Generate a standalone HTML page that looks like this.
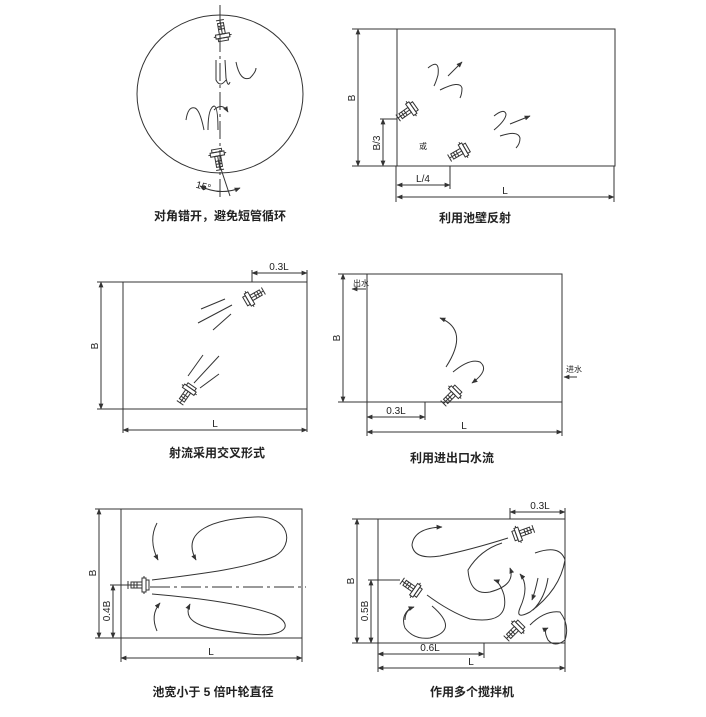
<!DOCTYPE html>
<html><head><meta charset="utf-8">
<style>
html,body{margin:0;padding:0;background:#fff;}
svg{display:block;}
text{font-family:"Liberation Sans","Noto Sans CJK SC",sans-serif;fill:#222;}
.cap{font-size:12px;font-weight:bold;}
.d{font-size:10px;}
</style></head><body>
<svg width="706" height="717" viewBox="0 0 706 717" xmlns="http://www.w3.org/2000/svg">
<defs>
<marker id="a" viewBox="0 0 10 10" refX="9" refY="5" markerWidth="6" markerHeight="6" orient="auto-start-reverse"><path d="M0,1 L10,5 L0,9 z" fill="#333"/></marker>
<g id="m" fill="none" stroke="#333" stroke-width="1">
<rect x="-9" y="-3" width="11" height="6"/>
<line x1="-9" y1="0" x2="2" y2="0"/>
<line x1="-6" y1="-3" x2="-6" y2="3"/><line x1="-3" y1="-3" x2="-3" y2="3"/>
<rect x="2" y="-7" width="4" height="14"/>
<rect x="6" y="-5" width="3" height="10"/>
<line x1="-12" y1="-4" x2="-12" y2="4"/><line x1="-12" y1="0" x2="-9" y2="0"/>
<line x1="4" y1="-9" x2="4" y2="-7"/><line x1="4" y1="7" x2="4" y2="9"/>
</g>
</defs>
<g fill="none" stroke="#333" stroke-width="1">
<!-- Panel 1 -->
<ellipse cx="220" cy="94" rx="83" ry="79"/>
<line x1="220" y1="5" x2="220" y2="198" stroke-dasharray="18,4,3,4"/>
<line x1="218" y1="160" x2="230" y2="196"/>
<path d="M200,186 Q220,196 240,188" marker-start="url(#a)" marker-end="url(#a)"/>
<path d="M216,60 L216,80 Q220,88 226,80" />
<path d="M225,60 L226,78 Q228,88 230,82"/>
<path d="M236,62 Q240,82 250,78 Q256,72 256,68"/>
<path d="M186,120 Q188,106 195,108 Q200,110 204,130"/>
<path d="M208,130 Q208,108 214,106 Q218,106 218,130"/>
<path d="M214,110 Q222,102 228,112" marker-end="url(#a)"/>
<!-- Panel 2 -->
<rect x="397" y="29" width="218" height="137"/>
<line x1="352" y1="29" x2="397" y2="29"/>
<line x1="352" y1="166" x2="397" y2="166"/>
<line x1="358" y1="29" x2="358" y2="166" marker-start="url(#a)" marker-end="url(#a)"/>
<line x1="380" y1="119" x2="397" y2="119"/>
<line x1="383" y1="119" x2="383" y2="166" marker-start="url(#a)" marker-end="url(#a)"/>
<line x1="450" y1="166" x2="450" y2="189"/>
<line x1="396" y1="166" x2="396" y2="202"/>
<line x1="614" y1="166" x2="614" y2="202"/>
<line x1="397" y1="185" x2="450" y2="185" marker-start="url(#a)" marker-end="url(#a)"/>
<line x1="397" y1="197" x2="614" y2="197" marker-start="url(#a)" marker-end="url(#a)"/>
<path d="M428,68 Q440,58 438,75 Q436,82 434,86"/>
<path d="M448,76 L462,62" marker-end="url(#a)"/>
<path d="M440,90 Q460,80 462,88 Q462,94 460,98"/>
<path d="M494,116 Q504,108 506,114 Q506,120 494,130"/>
<path d="M510,124 L530,116" marker-end="url(#a)"/>
<path d="M500,136 Q518,130 520,138 Q520,144 516,148"/>
<!-- Panel 3 -->
<rect x="123" y="282" width="184" height="127"/>
<line x1="97" y1="282" x2="123" y2="282"/>
<line x1="97" y1="409" x2="123" y2="409"/>
<line x1="101" y1="282" x2="101" y2="409" marker-start="url(#a)" marker-end="url(#a)"/>
<line x1="252" y1="270" x2="252" y2="282"/>
<line x1="307" y1="270" x2="307" y2="432"/>
<line x1="123" y1="409" x2="123" y2="433"/>
<line x1="252" y1="273" x2="307" y2="273" marker-start="url(#a)" marker-end="url(#a)"/>
<line x1="123" y1="430" x2="307" y2="430" marker-start="url(#a)" marker-end="url(#a)"/>
<line x1="201" y1="309" x2="225" y2="299"/>
<line x1="198" y1="323" x2="232" y2="305"/>
<line x1="213" y1="330" x2="231" y2="314"/>
<line x1="188" y1="376" x2="203" y2="355"/>
<line x1="194" y1="383" x2="219" y2="356"/>
<line x1="200" y1="388" x2="219" y2="374"/>
<!-- Panel 4 -->
<rect x="367" y="274" width="195" height="128"/>
<line x1="338" y1="274" x2="367" y2="274"/>
<line x1="338" y1="402" x2="367" y2="402"/>
<line x1="343" y1="274" x2="343" y2="402" marker-start="url(#a)" marker-end="url(#a)"/>
<line x1="425" y1="402" x2="425" y2="420"/>
<line x1="367" y1="402" x2="367" y2="436"/>
<line x1="562" y1="402" x2="562" y2="436"/>
<line x1="367" y1="417" x2="425" y2="417" marker-start="url(#a)" marker-end="url(#a)"/>
<line x1="367" y1="432" x2="562" y2="432" marker-start="url(#a)" marker-end="url(#a)"/>
<line x1="366" y1="289" x2="352" y2="289" marker-end="url(#a)"/>
<line x1="577" y1="377" x2="564" y2="377" marker-end="url(#a)"/>
<path d="M446,367 Q470,330 440,318" marker-end="url(#a)"/>
<path d="M453,372 Q470,358 480,362 Q490,370 472,383" marker-end="url(#a)"/>
<!-- Panel 5 -->
<rect x="121" y="509" width="181" height="129"/>
<line x1="95" y1="509" x2="121" y2="509"/>
<line x1="95" y1="638" x2="121" y2="638"/>
<line x1="99" y1="509" x2="99" y2="638" marker-start="url(#a)" marker-end="url(#a)"/>
<line x1="110" y1="585" x2="135" y2="585"/>
<line x1="113" y1="585" x2="113" y2="638" marker-start="url(#a)" marker-end="url(#a)"/>
<line x1="121" y1="638" x2="121" y2="662"/>
<line x1="302" y1="638" x2="302" y2="662"/>
<line x1="121" y1="658" x2="302" y2="658" marker-start="url(#a)" marker-end="url(#a)"/>
<line x1="150" y1="587" x2="306" y2="587" stroke-dasharray="20,4,3,4"/>
<path d="M152,580 C200,574 250,568 275,556 C295,545 290,515 255,517 C215,519 180,530 196,560" marker-end="url(#a)"/>
<path d="M152,594 C200,598 250,605 275,615 C295,625 285,638 250,634 C210,630 180,625 190,604" marker-end="url(#a)"/>
<path d="M157,523 Q148,540 158,560" marker-end="url(#a)"/>
<path d="M157,631 Q150,615 160,603" marker-end="url(#a)"/>
<!-- Panel 6 -->
<rect x="378" y="519" width="187" height="124"/>
<line x1="352" y1="519" x2="378" y2="519"/>
<line x1="352" y1="643" x2="378" y2="643"/>
<line x1="357" y1="519" x2="357" y2="643" marker-start="url(#a)" marker-end="url(#a)"/>
<line x1="368" y1="580" x2="400" y2="580"/>
<line x1="371" y1="580" x2="371" y2="643" marker-start="url(#a)" marker-end="url(#a)"/>
<line x1="510" y1="508" x2="510" y2="519"/>
<line x1="565" y1="508" x2="565" y2="672"/>
<line x1="510" y1="512" x2="565" y2="512" marker-start="url(#a)" marker-end="url(#a)"/>
<line x1="484" y1="643" x2="484" y2="658"/>
<line x1="378" y1="643" x2="378" y2="672"/>
<line x1="378" y1="654" x2="484" y2="654" marker-start="url(#a)" marker-end="url(#a)"/>
<line x1="378" y1="668" x2="565" y2="668" marker-start="url(#a)" marker-end="url(#a)"/>
<path d="M508,538 Q470,550 440,556 Q414,560 412,545 Q414,528 442,527" marker-end="url(#a)"/>
<path d="M502,543 Q480,550 468,570 Q470,596 490,592 Q516,585 510,568" marker-end="url(#a)"/>
<path d="M535,553 Q560,544 565,560 Q560,590 530,612 Q515,620 520,608 Q530,586 520,574" marker-end="url(#a)"/>
<path d="M538,578 Q535,592 532,600" marker-end="url(#a)"/>
<path d="M533,610 Q545,598 548,578" />
<path d="M427,595 Q450,612 470,619 Q510,625 504,595 Q500,582 494,580" marker-end="url(#a)"/>
<path d="M412,607 Q400,615 405,628 Q414,640 430,638 Q460,630 432,606" />
<path d="M405,620 Q405,610 414,607" marker-end="url(#a)"/>
<path d="M530,625 Q545,610 560,612 Q570,625 565,640 Q555,648 548,640 Q543,630 548,628" marker-end="url(#a)"/>
</g>
<!-- mixers -->
<use href="#m" transform="translate(222,32) rotate(80)"/>
<use href="#m" transform="translate(218,158) rotate(-100)"/>
<use href="#m" transform="translate(408,111) rotate(-35)"/>
<use href="#m" transform="translate(460,152) rotate(-30)"/>
<use href="#m" transform="translate(253,297) rotate(150)"/>
<use href="#m" transform="translate(187,393) rotate(-55)"/>
<use href="#m" transform="translate(452,395) rotate(-45)"/>
<use href="#m" transform="translate(140,585) rotate(0)"/>
<use href="#m" transform="translate(522,533) rotate(160)"/>
<use href="#m" transform="translate(412,588) rotate(35)"/>
<use href="#m" transform="translate(515,630) rotate(-45)"/>
<!-- text -->
<text class="d" x="196" y="190" transform="rotate(15 205 186)">15°</text>
<text class="cap" x="220" y="220" text-anchor="middle">对角错开，避免短管循环</text>
<text class="d" x="352" y="101" transform="rotate(-90 352 98)" text-anchor="middle">B</text>
<text class="d" x="377" y="146" transform="rotate(-90 377 143)" text-anchor="middle">B/3</text>
<text class="d" x="419" y="149" style="font-size:8px">或</text>
<text class="d" x="423" y="182" text-anchor="middle">L/4</text>
<text class="d" x="505" y="194" text-anchor="middle">L</text>
<text class="cap" x="475" y="222" text-anchor="middle">利用池壁反射</text>
<text class="d" x="279" y="270" text-anchor="middle">0.3L</text>
<text class="d" x="95" y="349" transform="rotate(-90 95 346)" text-anchor="middle">B</text>
<text class="d" x="215" y="427" text-anchor="middle">L</text>
<text class="cap" x="217" y="457" text-anchor="middle">射流采用交叉形式</text>
<text x="353" y="286" style="font-size:8px">出水</text>
<text x="566" y="372" style="font-size:8px">进水</text>
<text class="d" x="337" y="341" transform="rotate(-90 337 338)" text-anchor="middle">B</text>
<text class="d" x="396" y="414" text-anchor="middle">0.3L</text>
<text class="d" x="464" y="429" text-anchor="middle">L</text>
<text class="cap" x="452" y="462" text-anchor="middle">利用进出口水流</text>
<text class="d" x="93" y="576" transform="rotate(-90 93 573)" text-anchor="middle">B</text>
<text class="d" x="107" y="614" transform="rotate(-90 107 611)" text-anchor="middle">0.4B</text>
<text class="d" x="211" y="655" text-anchor="middle">L</text>
<text class="cap" x="213" y="696" text-anchor="middle">池宽小于 5 倍叶轮直径</text>
<text class="d" x="540" y="509" text-anchor="middle">0.3L</text>
<text class="d" x="351" y="584" transform="rotate(-90 351 581)" text-anchor="middle">B</text>
<text class="d" x="365" y="614" transform="rotate(-90 365 611)" text-anchor="middle">0.5B</text>
<text class="d" x="430" y="651" text-anchor="middle">0.6L</text>
<text class="d" x="471" y="665" text-anchor="middle">L</text>
<text class="cap" x="472" y="696" text-anchor="middle">作用多个搅拌机</text>
</svg>
</body></html>
